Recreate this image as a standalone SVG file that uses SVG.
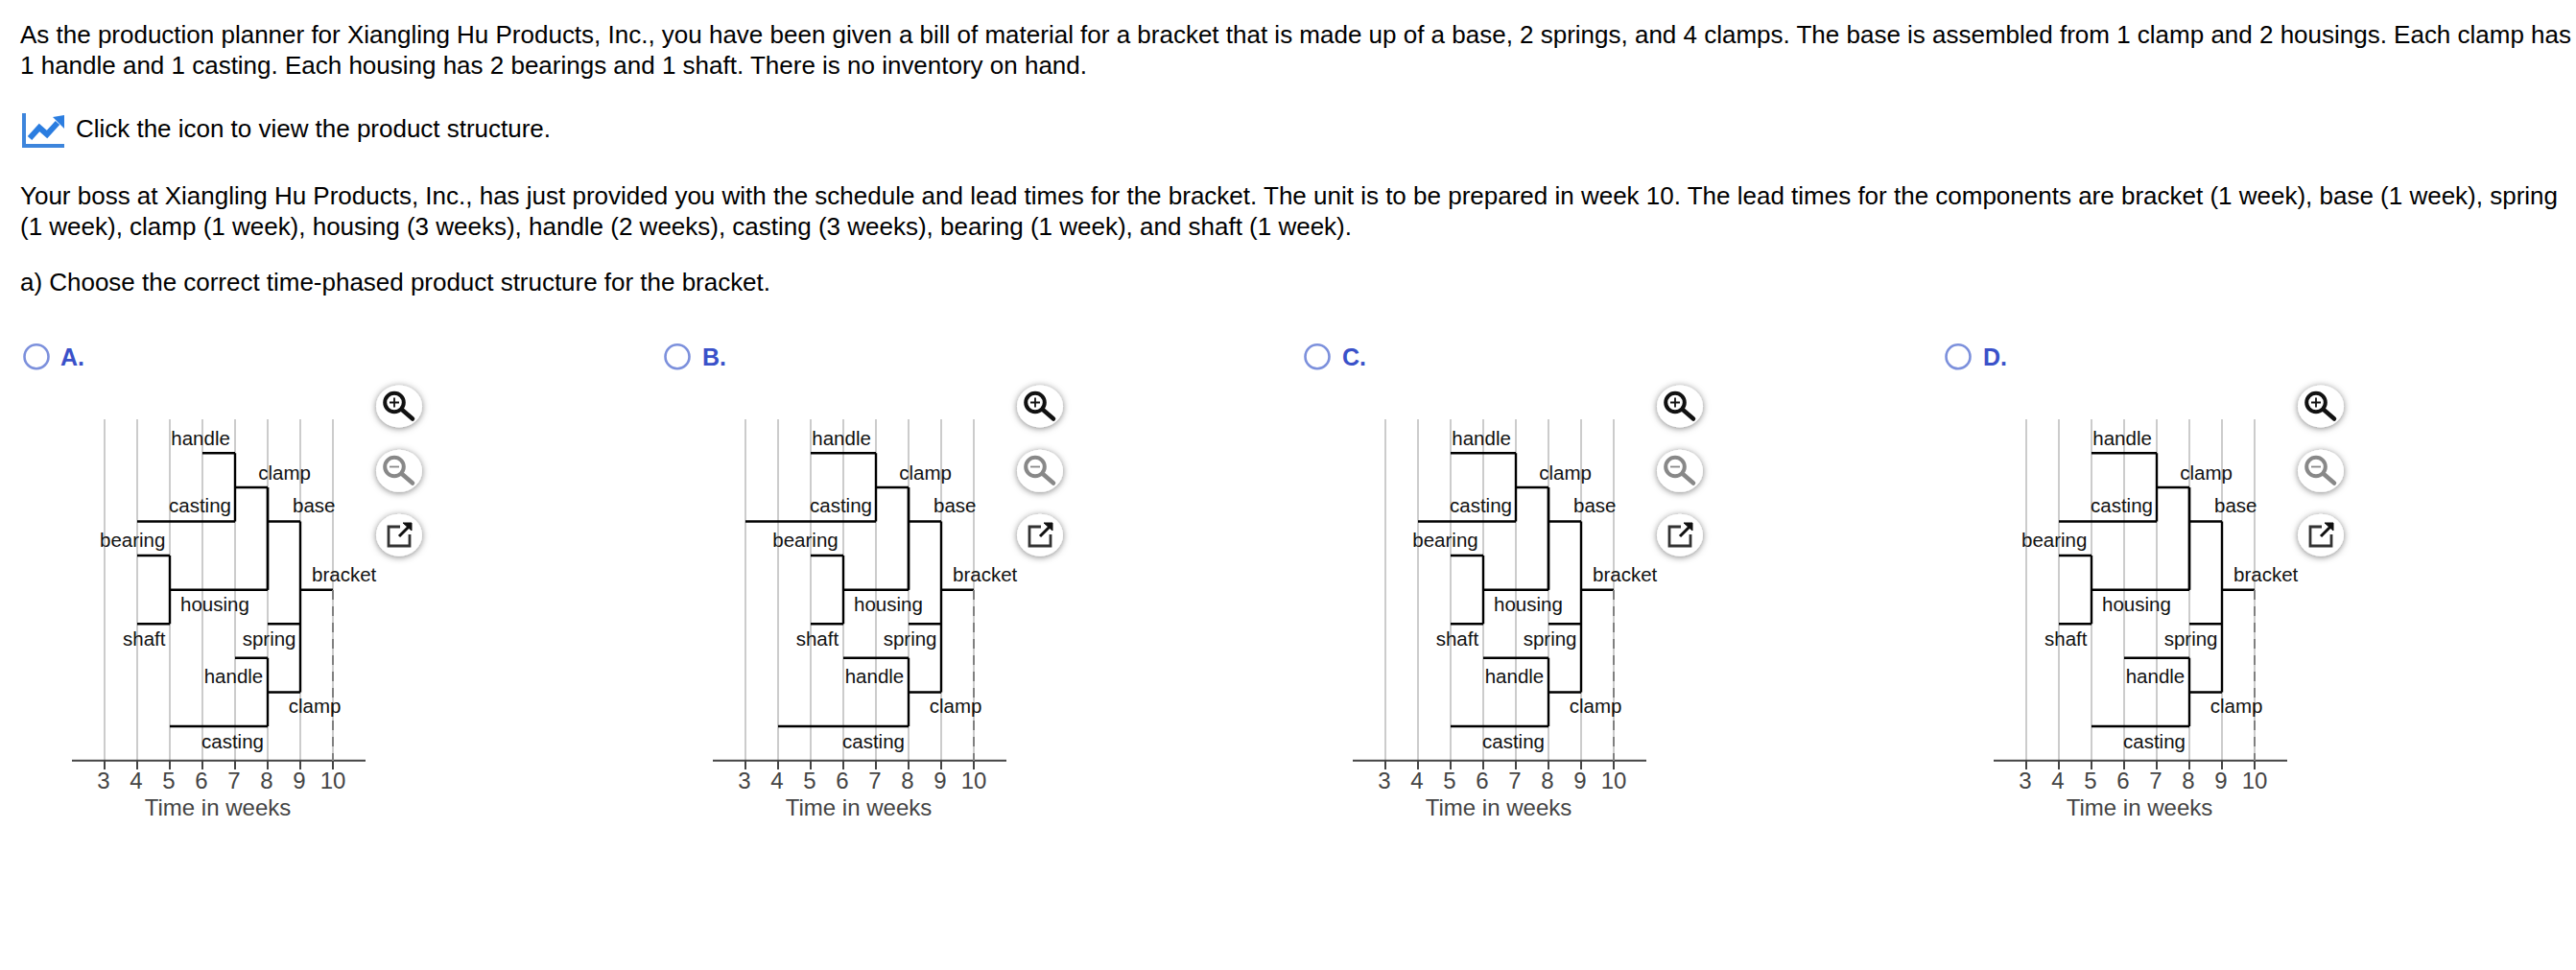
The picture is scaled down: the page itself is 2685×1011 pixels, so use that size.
<svg xmlns="http://www.w3.org/2000/svg" width="2685" height="1011" viewBox="0 0 2685 1011">
<style>
text{font-family:"Liberation Sans",Arial,sans-serif}
.q{font-size:26px;fill:#000}
.l{font-size:20.5px;fill:#111}
.t{font-size:24px;fill:#444;text-anchor:middle}
.o{font-size:25px;font-weight:bold;fill:#3a51c9}
.g{stroke:#ccc;stroke-width:2;fill:none}
.a{stroke:#444;stroke-width:2;fill:none}
.k{stroke:#000;stroke-width:2.4;fill:none}
.d{stroke:#808080;stroke-width:2;stroke-dasharray:10 7;fill:none}
.r{fill:#fff;stroke:#7c90dc;stroke-width:2.6}
.b{fill:#fff;filter:url(#s)}
</style>
<defs>
<filter id="s" x="-40%" y="-40%" width="180%" height="180%"><feDropShadow dx="0" dy="1" stdDeviation="3.5" flood-color="#000" flood-opacity=".5"/></filter>
<g id="grid">
<path class="g" d="M0 437V793M34 437V793M68 437V793M102 437V793M136 437V793M170 437V793M204 437V793M238 437V793"/>
<path class="a" d="M-34 792.8H272M0 793V802M34 793V802M68 793V802M102 793V802M136 793V802M170 793V802M204 793V802M238 793V802"/>
<text class="t" x="-1" y="821.7">3</text><text class="t" x="33" y="821.7">4</text><text class="t" x="67" y="821.7">5</text><text class="t" x="101" y="821.7">6</text><text class="t" x="135" y="821.7">7</text><text class="t" x="169" y="821.7">8</text><text class="t" x="203" y="821.7">9</text><text class="t" x="238" y="821.7">10</text>
<text class="t" x="118" y="850">Time in weeks</text>
</g>
<g id="common">
<path class="k" d="M136 508H170M170 508V614.8M170 543.5H204M204 543.5V721.5M204 614.8H238M170 650.2H204M170 721.5H204"/>
<path class="d" d="M238 615V793"/>
<text class="l" x="69.3" y="463.6">handle</text><text class="l" x="160.3" y="499.8">clamp</text><text class="l" x="67" y="533.9">casting</text><text class="l" x="196" y="533.9">base</text><text class="l" x="216" y="605.5">bracket</text><text class="l" x="143.7" y="673.3">spring</text><text class="l" x="103.7" y="711.5">handle</text><text class="l" x="191.7" y="743">clamp</text><text class="l" x="101" y="780">casting</text>
</g>
<g id="btns">
<ellipse class="b" cx="0" cy="423.5" rx="24" ry="22"/>
<ellipse class="b" cx="0" cy="490.8" rx="24" ry="22"/>
<ellipse class="b" cx="0" cy="557.7" rx="24" ry="22"/>
<circle cx="-5" cy="419.5" r="9.8" fill="none" stroke="#111" stroke-width="4"/>
<path d="M-10 419.5H0M-5 414.5V424.5" stroke="#111" stroke-width="1.8" fill="none"/>
<path d="M3 427L14 436.5" stroke="#111" stroke-width="4.5" stroke-linecap="round"/>
<circle cx="-5" cy="486.5" r="9.8" fill="none" stroke="#888" stroke-width="4"/>
<path d="M-10 486.5H0" stroke="#888" stroke-width="1.8" fill="none"/>
<path d="M3 494L14 503.5" stroke="#888" stroke-width="4.5" stroke-linecap="round"/>
<path d="M1 549H-11V569H11V557" stroke="#333" stroke-width="2.8" fill="none"/>
<path d="M0 559L11 548" stroke="#111" stroke-width="3" fill="none"/>
<path d="M4 545H13V553Z" fill="#111" stroke="#111"/>
</g>
</defs>
<g id="question">
<text class="q" x="21" y="45" textLength="2659">As the production planner for Xiangling Hu Products, Inc., you have been given a bill of material for a bracket that is made up of a base, 2 springs, and 4 clamps. The base is assembled from 1 clamp and 2 housings. Each clamp has</text>
<text class="q" x="21" y="77" textLength="1112">1 handle and 1 casting. Each housing has 2 bearings and 1 shaft. There is no inventory on hand.</text>
<g id="chart-icon">
<path d="M23 118H27V150H67V154H23Z" fill="#3d85dc"/>
<path d="M31 144L41 133L49 140L60 128" stroke="#2b7de0" stroke-width="6" fill="none"/>
<path d="M55 122L67 120V134Z" fill="#2b7de0"/>
</g>
<text class="q" x="79" y="143" textLength="495">Click the icon to view the product structure.</text>
<text class="q" x="21" y="212.5" textLength="2645">Your boss at Xiangling Hu Products, Inc., has just provided you with the schedule and lead times for the bracket. The unit is to be prepared in week 10. The lead times for the components are bracket (1 week), base (1 week), spring</text>
<text class="q" x="21" y="244.5" textLength="1388">(1 week), clamp (1 week), housing (3 weeks), handle (2 weeks), casting (3 weeks), bearing (1 week), and shaft (1 week).</text>
<text class="q" x="21" y="302.5" textLength="782">a) Choose the correct time-phased product structure for the bracket.</text>
</g>
<g id="option-a" transform="translate(109 0)">
<circle class="r" cx="-71" cy="371.7" r="12.5"/><text class="o" x="-46" y="381">A.</text>
<use href="#grid"/><use href="#btns" x="307"/>
<g class="connectors">
<path class="k" d="M102 472.2H136M136 472.2V543.5M34 543.5H136M170 614.8V508M34 579H68M68 579V650.2M68 614.8H170M34 650.2H68M136 685.7H170M170 685.7V757M68 757H170"/>
</g>
<use href="#common"/>
<text class="l" x="-5" y="569.7">bearing</text><text class="l" x="79" y="637">housing</text><text class="l" x="19" y="673.3">shaft</text>
</g>
<g id="option-b" transform="translate(777 0)">
<circle class="r" cx="-71" cy="371.7" r="12.5"/><text class="o" x="-45" y="381">B.</text>
<use href="#grid"/><use href="#btns" x="307"/>
<g class="connectors">
<path class="k" d="M68 472.2H136M136 472.2V543.5M0 543.5H136M170 614.8V508M68 579H102M102 579V650.2M102 614.8H170M68 650.2H102M102 685.7H170M170 685.7V757M34 757H170"/>
</g>
<use href="#common"/>
<text class="l" x="28.3" y="569.7">bearing</text><text class="l" x="113" y="637">housing</text><text class="l" x="52.7" y="673.3">shaft</text>
</g>
<g id="option-c" transform="translate(1444 0)">
<circle class="r" cx="-71" cy="371.7" r="12.5"/><text class="o" x="-45" y="381">C.</text>
<use href="#grid"/><use href="#btns" x="307"/>
<g class="connectors">
<path class="k" d="M68 472.2H136M136 472.2V543.5M34 543.5H136M170 614.8V508M68 579H102M102 579V650.2M102 614.8H170M68 650.2H102M102 685.7H170M170 685.7V757M68 757H170"/>
</g>
<use href="#common"/>
<text class="l" x="28.3" y="569.7">bearing</text><text class="l" x="113" y="637">housing</text><text class="l" x="52.7" y="673.3">shaft</text>
</g>
<g id="option-d" transform="translate(2112 0)">
<circle class="r" cx="-71" cy="371.7" r="12.5"/><text class="o" x="-45" y="381">D.</text>
<use href="#grid"/><use href="#btns" x="307"/>
<g class="connectors">
<path class="k" d="M68 472.2H136M136 472.2V543.5M34 543.5H136M170 614.8V508M34 579H68M68 579V650.2M68 614.8H170M34 650.2H68M102 685.7H170M170 685.7V757M68 757H170"/>
</g>
<use href="#common"/>
<text class="l" x="-5" y="569.7">bearing</text><text class="l" x="79" y="637">housing</text><text class="l" x="19" y="673.3">shaft</text>
</g>
</svg>
